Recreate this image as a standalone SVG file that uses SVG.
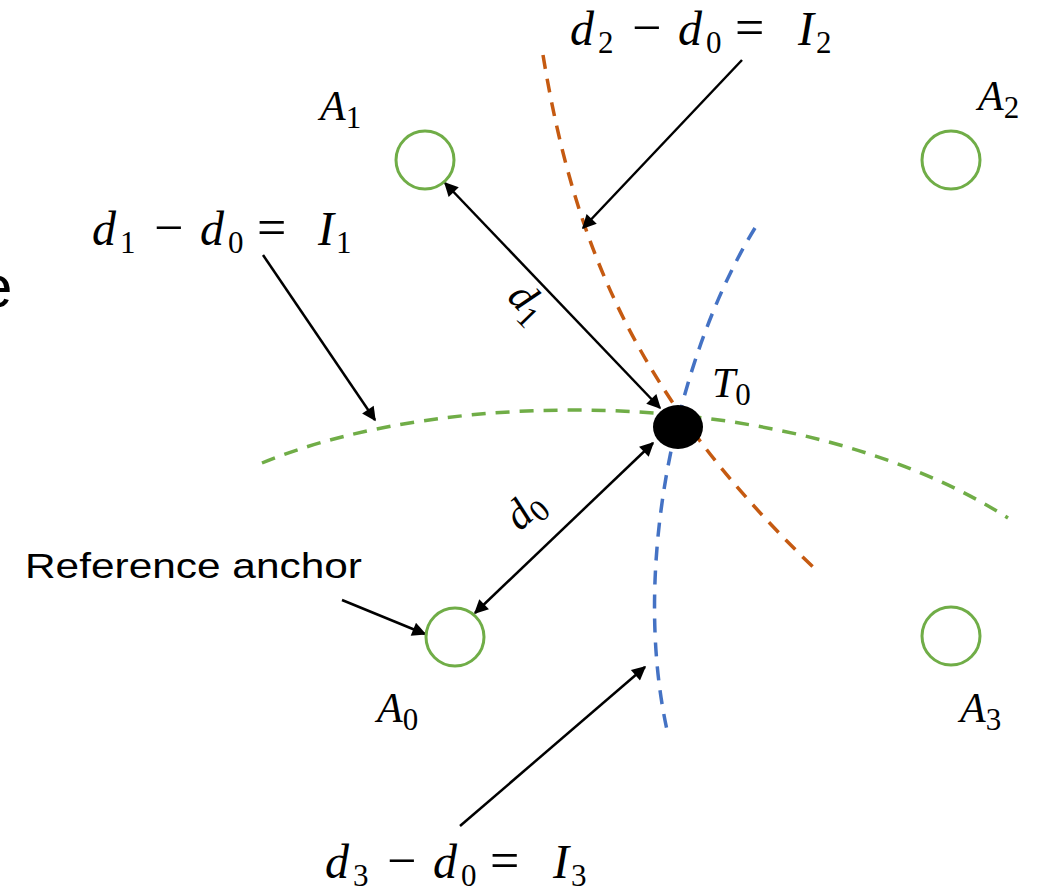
<svg xmlns="http://www.w3.org/2000/svg" width="1043" height="895" viewBox="0 0 1043 895">
<defs>
<marker id="ah2" viewBox="0 0 10 10" refX="9" refY="5" markerWidth="16" markerHeight="14" orient="auto-start-reverse" markerUnits="userSpaceOnUse">
<path d="M0,0 L10,5 L0,10 z" fill="#000"/>
</marker>
<style>
.anchor{fill:none;stroke:#70AD47;stroke-width:3}
.m{font-family:"Liberation Serif",serif;font-size:42px;fill:#000}
.e{font-size:48px}
.v{font-style:italic}
.s{font-size:31px}
.op{font-size:52px}
.dash{fill:none;stroke-width:3.5;stroke-dasharray:14 10}
.arr{fill:none;stroke:#000;stroke-width:2.5;marker-end:url(#ah2)}
.arr2{fill:none;stroke:#000;stroke-width:2.5;marker-end:url(#ah2);marker-start:url(#ah2)}
.t{font-family:"Liberation Sans",sans-serif;font-size:35px;fill:#000}
</style>
</defs>
<text class="t" x="-21" y="307" style="font-size:60px">e</text>
<g id="curves">
<path class="dash" stroke="#70AD47" d="M262,463 C450,385 800,385 1008,518"/>
<path class="dash" stroke="#C55A11" d="M543,55 C575,250 640,400 813,567"/>
<path class="dash" stroke="#4472C4" d="M755,228 C680,350 630,560 667,730"/>
</g>
<g id="connectors">
<line class="arr2" x1="445" y1="183" x2="660" y2="408"/>
<line class="arr2" x1="475" y1="613" x2="653" y2="443"/>
<line class="arr" x1="742" y1="60" x2="583" y2="228"/>
<line class="arr" x1="263" y1="255" x2="375" y2="420"/>
<line class="arr" x1="342" y1="600" x2="425" y2="634"/>
<line class="arr" x1="460" y1="826" x2="645" y2="667"/>
</g>
<g id="A1"><circle class="anchor" cx="425" cy="160" r="29"/>
<text class="m" x="320" y="120"><tspan class="v">A</tspan><tspan class="s" dy="8">1</tspan></text></g>
<g id="A2"><circle class="anchor" cx="951" cy="160" r="29"/>
<text class="m" x="978" y="110"><tspan class="v">A</tspan><tspan class="s" dy="8">2</tspan></text></g>
<g id="A0"><circle class="anchor" cx="455" cy="637" r="29"/>
<text class="m" x="377" y="722"><tspan class="v">A</tspan><tspan class="s" dy="8">0</tspan></text></g>
<g id="A3"><circle class="anchor" cx="951" cy="636" r="29"/>
<text class="m" x="960" y="722"><tspan class="v">A</tspan><tspan class="s" dy="8">3</tspan></text></g>
<g id="T0"><ellipse cx="678" cy="427" rx="25" ry="22" fill="#000"/>
<text class="m" x="712" y="397"><tspan class="v">T</tspan><tspan class="s" dy="8">0</tspan></text></g>
<g id="d1label"><text class="m" transform="translate(506,298) rotate(46)"><tspan class="v">d</tspan><tspan class="s" dy="8">1</tspan></text></g>
<g id="d0label"><text class="m" transform="translate(520,532) rotate(-43)"><tspan class="v">d</tspan><tspan class="s" dy="8">0</tspan></text></g>
<g id="eq2"><text class="m e" y="45"><tspan class="v" x="570">d</tspan><tspan class="s" x="598" y="53">2</tspan><tspan class="op" x="632" y="45">−</tspan><tspan class="v" x="678">d</tspan><tspan class="s" x="706" y="53">0</tspan><tspan class="op" x="735" y="45">=</tspan><tspan class="v" x="798">I</tspan><tspan class="s" x="816" y="53">2</tspan></text></g>
<g id="eq1"><text class="m e" y="245"><tspan class="v" x="92">d</tspan><tspan class="s" x="120" y="253">1</tspan><tspan class="op" x="154" y="245">−</tspan><tspan class="v" x="200">d</tspan><tspan class="s" x="228" y="253">0</tspan><tspan class="op" x="257" y="245">=</tspan><tspan class="v" x="318">I</tspan><tspan class="s" x="336" y="253">1</tspan></text></g>
<g id="eq3"><text class="m e" y="878"><tspan class="v" x="325">d</tspan><tspan class="s" x="353" y="886">3</tspan><tspan class="op" x="387" y="878">−</tspan><tspan class="v" x="433">d</tspan><tspan class="s" x="461" y="886">0</tspan><tspan class="op" x="490" y="878">=</tspan><tspan class="v" x="553">I</tspan><tspan class="s" x="571" y="886">3</tspan></text></g>
<g id="refanchor"><text class="t" x="25" y="578" textLength="337" lengthAdjust="spacingAndGlyphs">Reference anchor</text></g>
</svg>
